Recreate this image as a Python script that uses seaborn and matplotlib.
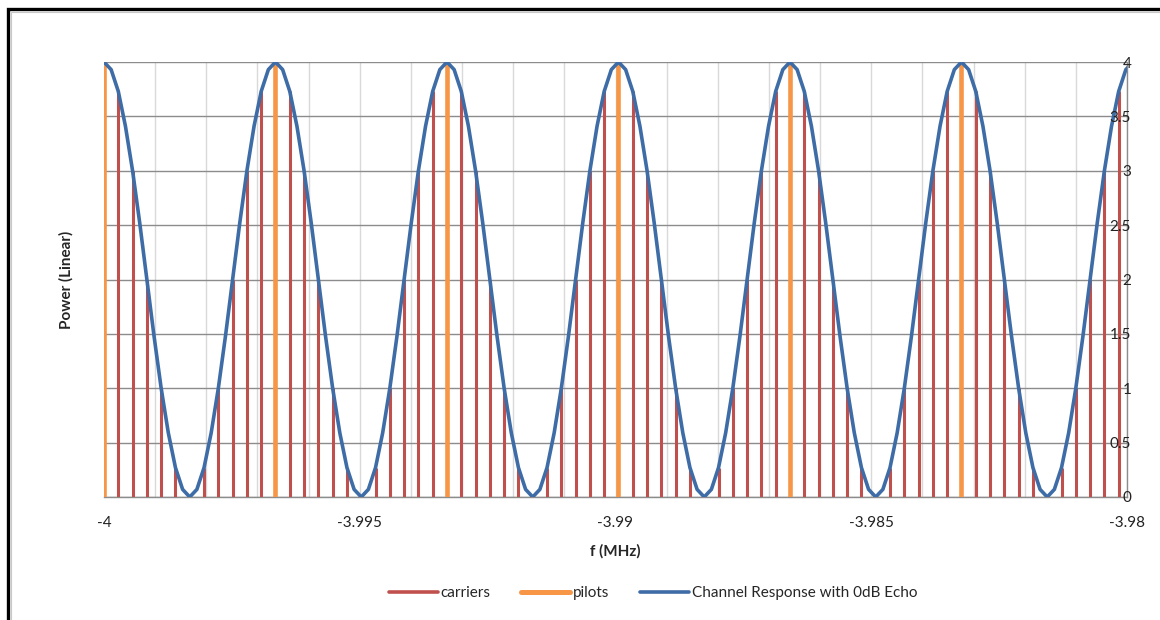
import numpy as np
import pandas as pd
import matplotlib
matplotlib.use('Agg')
import matplotlib.pyplot as plt
import matplotlib.patches as mpatches
from matplotlib.lines import Line2D
from matplotlib.ticker import MultipleLocator, FuncFormatter
import seaborn as sns

# ── Data ──────────────────────────────────────────────────────
F_START = -4.0          # MHz, first carrier
SPACING = 0.0002794     # MHz between carriers

# carrier power, one value per carrier (72 carriers)
carrier_power = [
    4.00, 3.73, 3.00, 2.00, 1.00, 0.27, 0.00, 0.27, 1.00, 2.00, 3.00, 3.73,
    4.00, 3.73, 3.00, 2.00, 1.00, 0.27, 0.00, 0.27, 1.00, 2.00, 3.00, 3.73,
    4.00, 3.73, 3.00, 2.00, 1.00, 0.27, 0.00, 0.27, 1.00, 2.00, 3.00, 3.73,
    4.00, 3.73, 3.00, 2.00, 1.00, 0.27, 0.00, 0.27, 1.00, 2.00, 3.00, 3.73,
    4.00, 3.73, 3.00, 2.00, 1.00, 0.27, 0.00, 0.27, 1.00, 2.00, 3.00, 3.73,
    4.00, 3.73, 3.00, 2.00, 1.00, 0.27, 0.00, 0.27, 1.00, 2.00, 3.00, 3.73,
]
pilot_index = [0, 12, 24, 36, 48, 60]
pilot_power = [4.0, 4.0, 4.0, 4.0, 4.0, 4.0]

# channel response, sampled every half carrier
response = [
    4.00, 3.93, 3.73, 3.41, 3.00, 2.52, 2.00, 1.48, 1.00, 0.59, 0.27, 0.07,
    0.00, 0.07, 0.27, 0.59, 1.00, 1.48, 2.00, 2.52, 3.00, 3.41, 3.73, 3.93,
    4.00, 3.93, 3.73, 3.41, 3.00, 2.52, 2.00, 1.48, 1.00, 0.59, 0.27, 0.07,
    0.00, 0.07, 0.27, 0.59, 1.00, 1.48, 2.00, 2.52, 3.00, 3.41, 3.73, 3.93,
    4.00, 3.93, 3.73, 3.41, 3.00, 2.52, 2.00, 1.48, 1.00, 0.59, 0.27, 0.07,
    0.00, 0.07, 0.27, 0.59, 1.00, 1.48, 2.00, 2.52, 3.00, 3.41, 3.73, 3.93,
    4.00, 3.93, 3.73, 3.41, 3.00, 2.52, 2.00, 1.48, 1.00, 0.59, 0.27, 0.07,
    0.00, 0.07, 0.27, 0.59, 1.00, 1.48, 2.00, 2.52, 3.00, 3.41, 3.73, 3.93,
    4.00, 3.93, 3.73, 3.41, 3.00, 2.52, 2.00, 1.48, 1.00, 0.59, 0.27, 0.07,
    0.00, 0.07, 0.27, 0.59, 1.00, 1.48, 2.00, 2.52, 3.00, 3.41, 3.73, 3.93,
    4.00, 3.93, 3.73, 3.41, 3.00, 2.52, 2.00, 1.48, 1.00, 0.59, 0.27, 0.07,
    0.00, 0.07, 0.27, 0.59, 1.00, 1.48, 2.00, 2.52, 3.00, 3.41, 3.73, 3.93,
    4.00,
]
y_ticks = [0, 0.5, 1, 1.5, 2, 2.5, 3, 3.5, 4]

carriers = pd.DataFrame({
    'f': F_START + SPACING * np.arange(len(carrier_power)),
    'power': carrier_power,
})
pilots = pd.DataFrame({
    'f': F_START + SPACING * np.array(pilot_index),
    'power': pilot_power,
})
curve = pd.DataFrame({
    'f': F_START + SPACING * 0.5 * np.arange(len(response)),
    'power': response,
})

RED, ORANGE, BLUE = '#C0504D', '#F79646', '#3E6CA6'

# ── Plot ──────────────────────────────────────────────────────
sns.set_theme(style='white')
plt.rcParams['font.family'] = ['Lato', 'DejaVu Sans']
plt.rcParams['axes.unicode_minus'] = False

fig = plt.figure(figsize=(11.6, 6.2), dpi=100)
ax = fig.add_axes([104 / 1160, 1 - 497 / 620, (1127 - 104) / 1160, (497 - 62) / 620])

# horizontal gridlines kept below the marks, tick labels kept above
for yv in y_ticks:
    ax.axhline(yv, color='#8C8C8C', lw=1, zorder=1)
ax.grid(axis='x', which='both', color='#D9D9D9', lw=1, zorder=0)
ax.set_axisbelow(True)

ax.vlines(carriers['f'], 0, carriers['power'], color=RED, lw=2.2, zorder=3)
ax.vlines(pilots['f'], 0, pilots['power'], color=ORANGE, lw=3.3, zorder=4)
sns.lineplot(data=curve, x='f', y='power', ax=ax, color=BLUE, lw=2.6,
             zorder=5, sort=False)

ax.set_xlim(-4.0, -3.98)
ax.set_ylim(0, 4)

ax.xaxis.set_major_locator(MultipleLocator(0.005))
ax.xaxis.set_minor_locator(MultipleLocator(0.001))
ax.set_yticks(y_ticks)
ax.xaxis.set_major_formatter(FuncFormatter(lambda v, p: f'{v:g}'))
ax.yaxis.set_major_formatter(FuncFormatter(lambda v, p: f'{v:g}'))
ax.yaxis.set_zorder(10)

for side in ['top', 'left']:
    ax.spines[side].set_visible(False)
for side in ['bottom', 'right']:
    ax.spines[side].set_color('#8C8C8C')
    ax.spines[side].set_linewidth(1)

ax.tick_params(axis='x', which='major', direction='out', length=5, width=1,
               color='#8C8C8C', pad=9, labelsize=11, labelcolor='#222222')
ax.tick_params(axis='x', which='minor', length=0)
ax.tick_params(axis='y', left=False, right=False, labelleft=False,
               labelright=True, pad=-3, labelsize=11, labelcolor='#222222')
for lab in ax.get_yticklabels():
    lab.set_horizontalalignment('right')

ax.set_xlabel('f (MHz)', fontsize=11, fontweight='bold', labelpad=10)
ax.set_ylabel('Power (Linear)', fontsize=11, fontweight='bold', labelpad=22)

handles = [
    Line2D([], [], color=RED, lw=2.6),
    Line2D([], [], color=ORANGE, lw=3.6),
    Line2D([], [], color=BLUE, lw=2.6),
]
fig.legend(handles, ['carriers', 'pilots', 'Channel Response with 0dB Echo'],
           loc='center', bbox_to_anchor=(0.563, 1 - 593 / 620), ncol=3,
           frameon=False, fontsize=11, handlelength=3.2, handletextpad=0.2,
           columnspacing=2.0)

# chart-area border (cropped on right and bottom)
fig.patches.append(mpatches.Rectangle((8 / 1160, -0.1), 1.2, 1.1 - 9 / 620,
                                      transform=fig.transFigure, fill=False,
                                      edgecolor='black', lw=2.4))
fig.patches.append(mpatches.Rectangle((11 / 1160, -0.1), 1.2, 1.1 - 12 / 620,
                                      transform=fig.transFigure, fill=False,
                                      edgecolor='#C8C8C8', lw=0.8))

plt.savefig('out.png', dpi=100)
plt.close()
